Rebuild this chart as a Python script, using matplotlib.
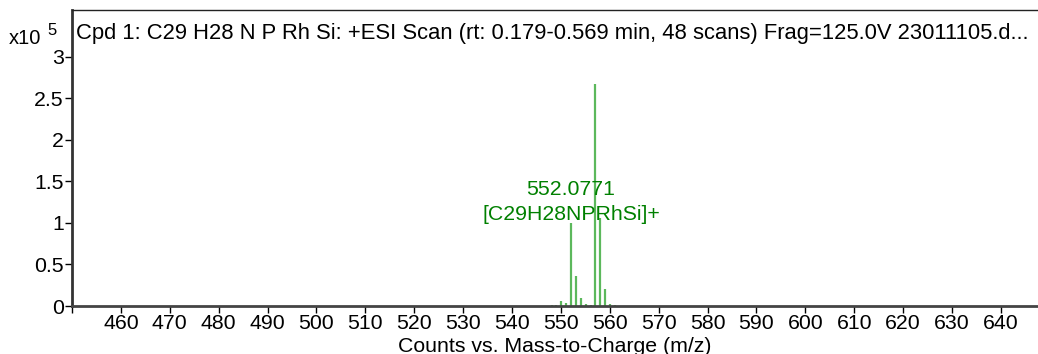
import numpy as np
import matplotlib
matplotlib.use('Agg')
import matplotlib.pyplot as plt

plt.rcParams['font.family'] = ['Liberation Sans', 'DejaVu Sans']

# pics du spectre (m/z, intensite en x10^5)
mz = [548.1, 549.1, 550.1, 551.1, 552.08, 553.08, 554.08, 555.08, 556.08,
      557.08, 558.08, 559.08, 560.08, 561.08]
intens = [0.01, 0.012, 0.06, 0.035, 1.0, 0.36, 0.10, 0.02, 0.008,
          2.67, 1.06, 0.21, 0.03, 0.008]

titre = "Cpd 1: C29 H28 N P Rh Si: +ESI Scan (rt: 0.179-0.569 min, 48 scans) Frag=125.0V 23011105.d..."
pic_mz = 552.0771
pic_label = "[C29H28NPRhSi]+"
xticks = list(range(460, 641, 10))
yticks = [0, 0.5, 1, 1.5, 2, 2.5, 3]

fs = 15.3

fig = plt.figure(figsize=(10.38, 3.54), dpi=100)
ax = fig.add_axes([72/1038, 1 - 306/354, 1 - 72/1038, 296/354])

ax.vlines(mz, 0, intens, color='#5cb85c', linewidth=1.6)

ax.set_xlim(450, 647.6)
ax.set_ylim(0, 3.566)
ax.set_xticks([450] + xticks)
ax.set_xticklabels([''] + [str(t) for t in xticks])
ax.set_yticks(yticks)
ax.set_yticklabels(['0', '0.5', '1', '1.5', '2', '2.5', '3'])
ax.tick_params(labelsize=fs, length=5, width=1, direction='out', pad=1)

ax.spines['right'].set_visible(False)
ax.spines['left'].set_linewidth(2)
ax.spines['left'].set_color('#333333')
ax.spines['bottom'].set_linewidth(2)
ax.spines['bottom'].set_color('#444444')
ax.spines['top'].set_linewidth(1)
ax.spines['top'].set_color('#222222')

fig.text(76/1038, 1 - 39/354, titre, fontsize=15.8, ha='left', va='baseline')
ax.text(pic_mz, 1.34, "%.4f" % pic_mz, color='#008000', fontsize=fs,
        ha='center', va='baseline')
ax.text(pic_mz, 1.04, pic_label, color='#008000', fontsize=fs,
        ha='center', va='baseline')

fig.text(9/1038, 1 - 44/354, "x10", fontsize=14.5, ha='left', va='baseline')
fig.text(47/1038, 1 - 35/354, "5", fontsize=12, ha='left', va='baseline')

fig.text(555/1038, 1 - 352/354, "Counts vs. Mass-to-Charge (m/z)", fontsize=fs,
         ha='center', va='baseline')

fig.savefig('out.png', dpi=100)
